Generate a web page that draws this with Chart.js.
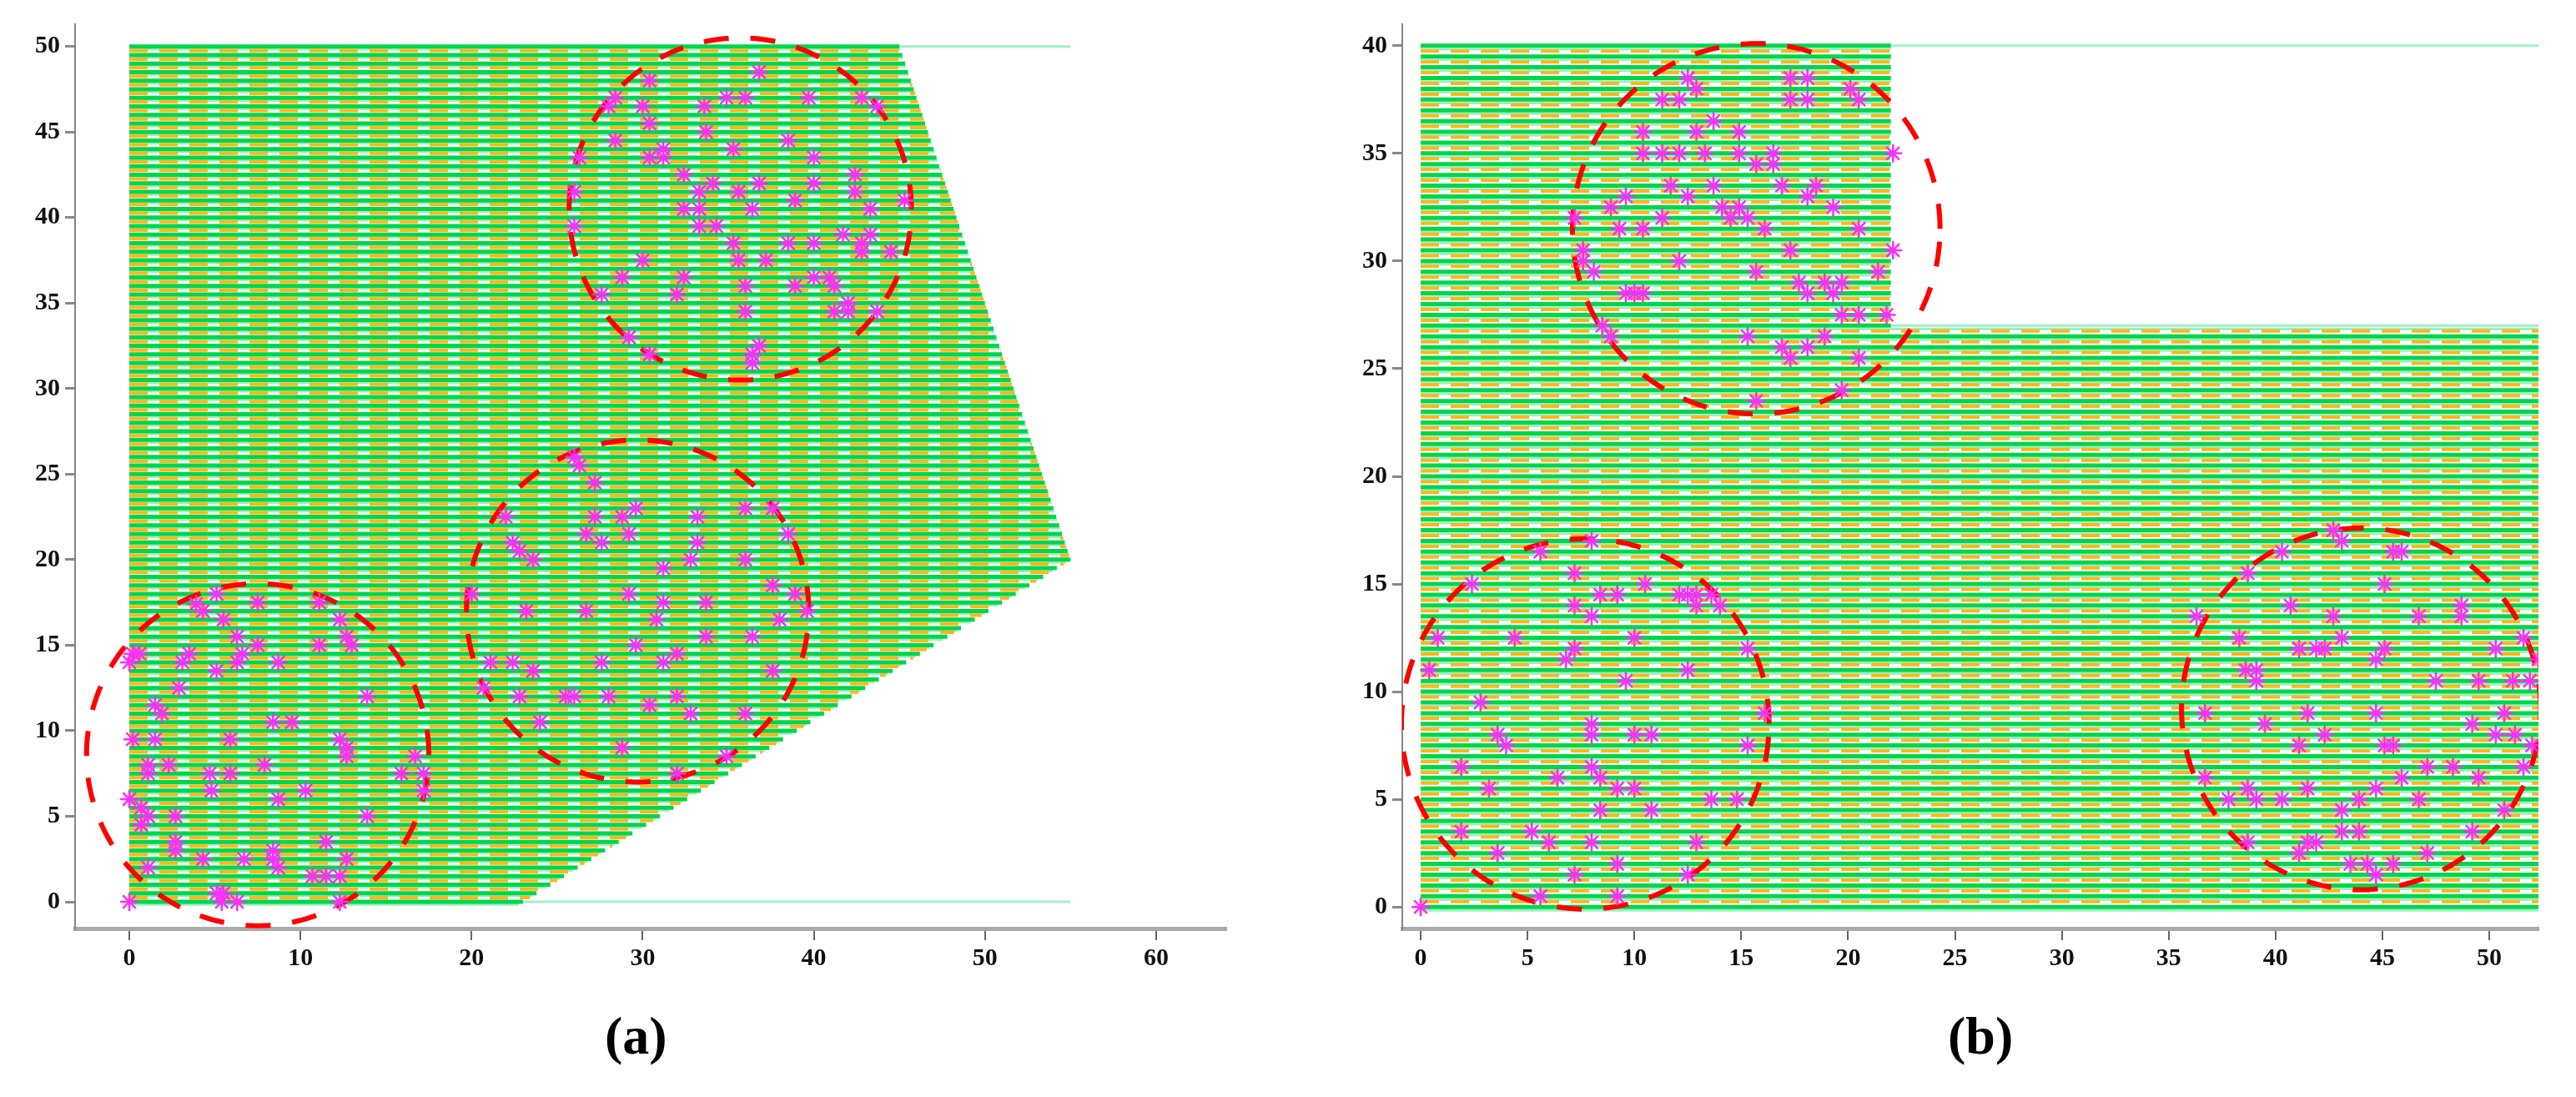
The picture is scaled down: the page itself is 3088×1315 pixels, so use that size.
<!DOCTYPE html>
<html>
<head>
<meta charset="utf-8">
<script src="https://cdn.jsdelivr.net/npm/chart.js@4.4.1/dist/chart.umd.min.js"></script>
<style>
  body { margin: 0; background: #fff; width: 3088px; height: 1315px; position: relative; overflow: hidden; }
  .panel { position: absolute; top: 0; width: 1544px; height: 1180px; }
  .cap { position: absolute; top: 1205px; font: bold 64px "Liberation Serif", serif; color: #000; }
</style>
</head>
<body>
<div class="panel" style="left:0"><canvas id="chartA"></canvas></div>
<div class="panel" style="left:1544px"><canvas id="chartB"></canvas></div>
<div class="cap" style="left:725px">(a)</div>
<div class="cap" style="left:2335px">(b)</div>
<script>
// panel (a): region outline, polygon corners
const regionA = [[0, 0], [23, 0], [55, 20], [45, 50], [0, 50]];
// panel (b): L-shaped region
const regionB = { yStep: 27, xLow: 52.3, xHigh: 22, yTop: 40 };

// dashed circles [cx, cy, r]
const circlesA = [[7.5, 8.6, 10], [29.7, 17, 10], [35.7, 40.5, 10]];
const circlesB = [[7.7, 8.5, 8.6], [15.7, 31.5, 8.6], [44, 9.2, 8.4]];

const ptsA1 = [[5.1,18],[3.9,17.4],[4.3,17],[7.5,17.5],[11.1,17.5],[5.5,16.5],[12.3,16.5],[6.3,15.5],[7.5,15],
  [11.1,15],[12.7,15.5],[13,15],[0.2,14.5],[0.6,14.5],[0,14],[3.5,14.5],[3.1,14],[6.6,14.5],[6.3,14],[8.7,14],
  [5.1,13.5],[2.9,12.5],[13.9,12],[1.5,11.5],[1.9,11],[8.4,10.5],[9.5,10.5],[0.2,9.5],[1.5,9.5],[5.9,9.5],
  [12.3,9.5],[12.7,9],[12.7,8.5],[16.7,8.5],[1.1,8],[2.3,8],[1.1,7.5],[7.9,8],[4.7,7.5],[5.9,7.5],[15.9,7.5],
  [17.2,7.5],[4.8,6.5],[10.3,6.5],[17.2,6.5],[0,6],[8.7,6],[0.7,5.5],[1.1,5],[2.7,5],[13.9,5],[0.7,4.5],
  [2.7,3.5],[11.5,3.5],[2.7,3],[8.4,3],[4.3,2.5],[6.7,2.5],[8.4,2.5],[12.7,2.5],[1.1,2],[8.7,2],[10.7,1.5],
  [11.5,1.5],[12.3,1.5],[5.1,0.5],[5.5,0.5],[5.4,0],[6.3,0],[0,0],[12.3,0]];
const ptsA2 = [[26,26],[26.3,25.5],[27.2,24.5],[29.6,23],[27.2,22.5],[28.8,22.5],[33.2,22.5],[36,23],[37.6,23],
  [22,22.5],[26.7,21.5],[29.2,21.5],[27.6,21],[33.2,21],[38.5,21.5],[22.4,21],[22.8,20.5],[23.6,20],[32.8,20],
  [36,20],[31.2,19.5],[37.6,18.5],[38.9,18],[20,18],[29.2,18],[31.2,17.5],[33.7,17.5],[23.2,17],[26.7,17],
  [30.8,16.5],[38,16.5],[39.6,17],[33.7,15.5],[36.4,15.5],[29.6,15],[32,14.5],[31.2,14],[21.1,14],[22.4,14],
  [27.6,14],[23.6,13.5],[37.6,13.5],[20.7,12.5],[22.8,12],[25.5,12],[26,12],[28,12],[32,12],[30.4,11.5],
  [32.8,11],[36,11],[24,10.5],[28.8,9],[34.9,8.5],[32,7.5]];
const ptsA3 = [[36.8,48.5],[30.4,48],[28.4,47],[28,46.5],[30,46.5],[33.6,46.5],[34.9,47],[36,47],[39.7,47],
  [42.8,47],[43.7,46.5],[30.4,45.5],[33.7,45],[28.4,44.5],[38.5,44.5],[35.3,44],[26.3,43.5],[30.4,43.5],
  [31.2,44],[31.2,43.5],[40,43.5],[32.4,42.5],[34.1,42],[36.8,42],[40,42],[42.4,42.5],[42.4,41.5],[26,41.5],
  [33.3,41.5],[35.6,41.5],[38.9,41],[45.3,41],[32.4,40.5],[33.3,40.5],[36.4,40.5],[43.3,40.5],[26,39.5],
  [33.3,39.5],[34.3,39.5],[41.7,39],[43.3,39],[35.3,38.5],[38.5,38.5],[40,38.5],[42.8,38.5],[44.5,38],
  [42.8,38],[30,37.5],[35.6,37.5],[37.2,37.5],[28.8,36.5],[32.4,36.5],[40,36.5],[40.9,36.5],[41.2,36],
  [38.9,36],[36,36],[27.6,35.5],[32,35.5],[42,35],[36,34.5],[41.2,34.5],[42,34.5],[43.7,34.5],[29.2,33],
  [30.4,32],[36.8,32.5],[36.4,32],[36.4,31.5]];
const ptsB1 = [[8,17],[5.6,16.5],[7.2,15.5],[2.4,15],[10.5,15],[8.4,14.5],[9.2,14.5],[12.1,14.5],[12.5,14.5],
  [12.9,14.5],[13.6,14.5],[12.9,14],[14,14],[7.2,14],[8,13.5],[0.8,12.5],[4.4,12.5],[10,12.5],[7.2,12],
  [15.3,12],[6.8,11.5],[0.4,11],[12.5,11],[9.6,10.5],[2.8,9.5],[16.1,9],[8,8.5],[8,8],[3.6,8],[10,8],[10.8,8],
  [4,7.5],[15.3,7.5],[1.9,6.5],[8,6.5],[6.4,6],[8.4,6],[3.2,5.5],[9.2,5.5],[10,5.5],[13.6,5],[14.8,5],
  [8.4,4.5],[10.8,4.5],[1.9,3.5],[5.2,3.5],[6,3],[8,3],[12.9,3],[3.6,2.5],[9.2,2],[7.2,1.5],[12.5,1.5],
  [5.6,0.5],[9.2,0.5],[0,0]];
const ptsB2 = [[12.5,38.5],[12.9,38],[11.3,37.5],[12.1,37.5],[17.3,38.5],[18.1,38.5],[17.3,37.5],[18.1,37.5],
  [20.1,38],[20.5,37.5],[13.7,36.5],[10.4,36],[12.9,36],[14.9,36],[10.4,35],[11.3,35],[12.1,35],[13.3,35],
  [14.9,35],[16.5,35],[15.7,34.5],[16.5,34.5],[22.1,35],[11.7,33.5],[13.7,33.5],[16.9,33.5],[18.5,33.5],
  [9.6,33],[12.5,33],[18.1,33],[8.9,32.5],[14.1,32.5],[14.9,32.5],[19.3,32.5],[7.2,32],[11.3,32],[14.5,32],
  [15.3,32],[9.3,31.5],[10.4,31.5],[16.1,31.5],[20.5,31.5],[7.6,30.5],[17.3,30.5],[22.1,30.5],[7.6,30],
  [8.1,29.5],[12.1,30],[15.7,29.5],[21.4,29.5],[17.7,29],[18.9,29],[19.7,29],[18.1,28.5],[19.3,28.5],
  [9.6,28.5],[10,28.5],[10.4,28.5],[19.7,27.5],[20.5,27.5],[21.8,27.5],[8.5,27],[8.9,26.5],[15.3,26.5],
  [18.9,26.5],[16.9,26],[18.1,26],[17.3,25.5],[20.5,25.5],[19.7,24],[15.7,23.5]];
const ptsB3 = [[42.7,17.5],[43.1,17],[40.3,16.5],[45.5,16.5],[45.9,16.5],[38.7,15.5],[45.1,15],[40.7,14],
  [48.7,14],[36.3,13.5],[42.7,13.5],[46.7,13.5],[48.7,13.5],[38.3,12.5],[43.1,12.5],[51.6,12.5],[41.1,12],
  [41.9,12],[42.3,12],[45.1,12],[50.3,12],[44.7,11.5],[52.3,11.5],[38.6,11],[39.1,11],[39.1,10.5],[47.5,10.5],
  [49.5,10.5],[51.1,10.5],[51.9,10.5],[36.7,9],[41.5,9],[44.7,9],[50.7,9],[39.5,8.5],[49.2,8.5],[42.3,8],
  [50.3,8],[51.2,8],[41.1,7.5],[45.1,7.5],[45.5,7.5],[52,7.5],[47.1,6.5],[48.3,6.5],[51.6,6.5],[36.7,6],
  [45.9,6],[49.5,6],[38.7,5.5],[41.5,5.5],[44.7,5.5],[37.8,5],[39.1,5],[40.3,5],[43.9,5],[46.7,5],[43.1,4.5],
  [50.7,4.5],[43.1,3.5],[43.9,3.5],[49.2,3.5],[38.7,3],[41.5,3],[41.9,3],[41.1,2.5],[47.1,2.5],[43.5,2],
  [44.3,2],[45.5,2],[44.7,1.5]];

const ticksA = { x: [0, 10, 20, 30, 40, 50, 60], y: [0, 5, 10, 15, 20, 25, 30, 35, 40, 45, 50] };
const ticksB = { x: [0, 5, 10, 15, 20, 25, 30, 35, 40, 45, 50], y: [0, 5, 10, 15, 20, 25, 30, 35, 40] };

const GREEN = "#00d64c", LIGHT = "#9af2c0", ORANGE = "#ffb51a", PINK = "#ff2cff";

function rightEdgeA(y) {
  if (y <= 20) return 23 + (55 - 23) * y / 20;
  return 55 - 10 * (y - 20) / 30;
}
function rightEdgeB(y) {
  return y < regionB.yStep ? regionB.xLow : regionB.xHigh;
}

function stripes(yMax, edge) {
  const green = [], light = [], orange = [];
  for (let i = 0; i <= yMax * 2; i++) {
    const y = i / 2;
    green.push({ x: 0, y: y }, { x: edge(y), y: y }, { x: 0, y: null });
    light.push({ x: 0, y: y - 0.16 }, { x: edge(y - 0.16), y: y - 0.16 }, { x: 0, y: null });
    if (y < yMax) {
      const yo = y + 0.25;
      orange.push({ x: 0, y: yo }, { x: edge(yo), y: yo }, { x: 0, y: null });
    }
  }
  return [
    { data: green, borderColor: GREEN, borderWidth: 5, order: 5 },
    { data: light, borderColor: LIGHT, borderWidth: 3, order: 6 },
    { data: orange, borderColor: ORANGE, borderWidth: 4, borderDash: [22, 14], order: 4 }
  ];
}

function circle(c) {
  const pts = [];
  for (let k = 0; k <= 200; k++) {
    const a = k / 200 * Math.PI * 2;
    pts.push({ x: c[0] + c[2] * Math.cos(a), y: c[1] + c[2] * Math.sin(a) });
  }
  return { data: pts, borderColor: "#ff0000", borderWidth: 6, borderDash: [30, 26], order: 2 };
}

function stars(p) {
  return {
    data: p.map(q => ({ x: q[0], y: q[1] })), showLine: false, pointStyle: "star",
    pointRadius: 11, pointBorderColor: PINK, pointBorderWidth: 2.5, order: 1
  };
}

function outline(segs) {
  return { data: segs, borderColor: "#9ef2c6", borderWidth: 3, order: 7 };
}

const tickFont = { family: "Liberation Serif", size: 30, weight: "bold" };

function makeChart(id, datasets, xr, yr, tk, axisW, pad) {
  return new Chart(document.getElementById(id), {
    type: "scatter",
    data: { datasets: datasets.map(d => Object.assign({ showLine: true, pointRadius: 0, fill: false, spanGaps: false }, d)) },
    options: {
      responsive: false, animation: false, devicePixelRatio: 1,
      layout: { padding: pad },
      plugins: { legend: { display: false }, tooltip: { enabled: false } },
      scales: {
        x: {
          min: xr[0], max: xr[1],
          afterBuildTicks: s => { s.ticks = tk.x.map(v => ({ value: v })); },
          afterFit: s => { s.height = 67; },
          grid: { drawOnChartArea: false, tickLength: 14, color: "#666", lineWidth: 2 },
          border: { color: "#aaa", width: 5 },
          ticks: { font: tickFont, color: "#111", padding: 4 }
        },
        y: {
          min: yr[0], max: yr[1],
          afterBuildTicks: s => { s.ticks = tk.y.map(v => ({ value: v })); },
          afterFit: s => { s.width = axisW; },
          grid: { drawOnChartArea: false, tickLength: 12, color: "#888", lineWidth: 3 },
          border: { color: "#888", width: 2 },
          ticks: { font: tickFont, color: "#111", padding: 6 }
        }
      }
    }
  });
}

for (const id of ["chartA", "chartB"]) {
  const c = document.getElementById(id);
  c.width = 1544; c.height = 1180;
}

makeChart("chartA",
  [stars(ptsA1), stars(ptsA2), stars(ptsA3)]
    .concat(circlesA.map(circle))
    .concat(stripes(50, rightEdgeA))
    .concat([outline([{ x: 45, y: 50 }, { x: 55, y: 50 }, { x: 0, y: null }, { x: 23, y: 0 }, { x: 55, y: 0 }])]),
  [-3.17, 64.1], [-1.56, 51.3], ticksA, 90, { top: 29, right: 74, left: 0, bottom: 0 });

makeChart("chartB",
  [stars(ptsB1), stars(ptsB2), stars(ptsB3)]
    .concat(circlesB.map(circle))
    .concat(stripes(regionB.yTop, rightEdgeB))
    .concat([outline([{ x: regionB.xHigh, y: regionB.yTop }, { x: regionB.xLow, y: regionB.yTop }, { x: 0, y: null },
      { x: regionB.xHigh, y: regionB.yStep }, { x: regionB.xLow, y: regionB.yStep }])]),
  [-0.86, 52.3], [-1.0, 41], ticksB, 137, { top: 29, right: 45, left: 0, bottom: 0 });
</script>
</body>
</html>
